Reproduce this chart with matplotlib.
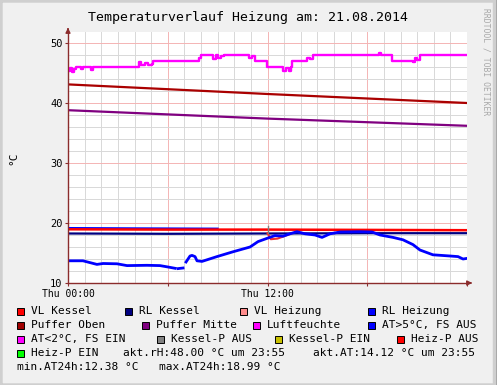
import numpy as np
import matplotlib.pyplot as plt
from matplotlib.patches import Rectangle

W, H = 497, 385
nan = np.nan

# Luftfeuchte (magenta, Stufen)
rh_h = [0.0, 0.12, 0.24, 0.36, 0.48, 0.78, 0.9, 1.38, 1.5, 4.27, 4.39, 4.63, 4.81, 5.05, 5.11,
        7.88, 8.0, 8.72, 8.9, 9.02, 9.2, 9.38, 10.88, 11.06, 11.24, 11.95, 12.93, 13.11, 13.29,
        13.41, 13.47, 14.38, 14.56, 14.74, 18.71, 18.83, 19.49, 20.75, 20.87, 20.99, 21.17, 24.0]
rh_v = [45.3, 45.8, 45.2, 45.7, 46.0, 45.6, 46.0, 45.5, 46.0, 46.8, 46.4, 46.6, 46.3, 46.5, 47.0,
        47.5, 48.0, 47.4, 48.0, 47.5, 47.8, 48.0, 47.5, 47.8, 47.0, 46.0, 45.3, 45.8, 45.3,
        46.0, 47.0, 47.5, 47.3, 48.0, 48.3, 48.0, 47.0, 46.9, 47.5, 47.2, 48.0, 48.0]

# Puffer Oben / Puffer Mitte
puffer_h = [0, 6, 12, 18, 24]
puffer_oben = [43.1, 42.3, 41.5, 40.75, 40.0]
puffer_mitte = [38.8, 38.1, 37.4, 36.8, 36.2]

# VL Kessel / RL Kessel / RL Heizung
kessel_h = [0, 6, 12, 18, 24]
vl_kessel = [18.95, 18.9, 18.9, 18.85, 18.8]
rl_kessel = [18.25, 18.2, 18.25, 18.3, 18.3]
rl_heiz_h = [0, 4, 9.0]
rl_heiz = [19.15, 19.1, 19.05]

# VL Heizung (kurzer Einbruch nach 12 Uhr)
vl_heiz_h = [12.0, 12.2, 12.6, 13.0, 13.4]
vl_heiz = [18.3, 17.3, 17.4, 17.8, 18.2]

# Kessel-P AUS Spitze
kp_h = [12.0, 12.0]
kp_v = [18.3, 19.5]

# Aussentemperatur (blau)
at_h = [0.0, 0.9, 1.74, 2.11, 2.95, 3.55, 4.75, 5.53, 5.95, 6.44, 6.55, 6.62, 6.92, 7.0,
        7.1, 7.34, 7.46, 7.64, 7.76, 8.06, 8.96, 9.92, 10.95, 11.43, 12.03, 12.45, 12.93,
        13.35, 13.77, 14.26, 14.86, 15.28, 15.76, 16.36, 17.56, 18.29, 18.77, 19.55, 20.15,
        20.75, 21.17, 21.95, 22.98, 23.46, 23.76, 24.0]
at_v = [13.7, 13.7, 13.1, 13.25, 13.2, 12.9, 12.95, 12.9, 12.7, 12.45, nan, 12.4, 12.5, nan,
        13.5, 14.5, 14.6, 14.4, 13.7, 13.6, 14.4, 15.2, 16.0, 16.9, 17.5, 17.9, 17.8,
        18.2, 18.55, 18.2, 18.0, 17.6, 18.2, 18.5, 18.55, 18.5, 18.0, 17.6, 17.2,
        16.4, 15.5, 14.7, 14.5, 14.4, 14.0, 14.1]

# Legende
leg_labels = ["VL Kessel", "RL Kessel", "VL Heizung", "RL Heizung",
              "Puffer Oben", "Puffer Mitte", "Luftfeuchte", "AT>5°C, FS AUS",
              "AT<2°C, FS EIN", "Kessel-P AUS", "Kessel-P EIN", "Heiz-P AUS",
              "Heiz-P EIN"]
leg_colors = ["#FF0000", "#000080", "#FF8C8C", "#0000FF",
              "#A00000", "#800080", "#FF00FF", "#0000FF",
              "#FF00FF", "#808080", "#C8C000", "#FF0000",
              "#00FF00"]
leg_x = [17, 125, 240, 368, 17, 142, 253, 368, 17, 157, 275, 397, 17]
leg_row = [0, 0, 0, 0, 1, 1, 1, 1, 2, 2, 2, 2, 3]
extra_texts = [("akt.rH:48.00 °C um 23:55", 123, 3), ("akt.AT:14.12 °C um 23:55", 313, 3),
               ("min.AT24h:12.38 °C", 17, 4), ("max.AT24h:18.99 °C", 159, 4)]
row_y = [311, 325, 339, 353, 367]

mono = 'DejaVu Sans Mono'
axcol = '#8B2C2C'


def fx(px):
    return px / W


def fy(py):
    return 1 - py / H


fig = plt.figure(figsize=(W / 100, H / 100), dpi=100, facecolor='#F0F0F0')

# Rahmen
fig.patches.append(Rectangle((0, 0), 1, 1, transform=fig.transFigure, fill=False,
                             edgecolor='#9E9E9E', lw=2.5))
fig.patches.append(Rectangle((0, 0), fx(W - 3), 1, transform=fig.transFigure, fill=False,
                             edgecolor='#CFCFCF', lw=2.5))

ax = fig.add_axes([fx(68), fy(283), fx(399), (283 - 32) / H])
ax.set_facecolor('white')

ax.plot(puffer_h, puffer_oben, color='#AA0000', lw=1.6)
ax.plot(puffer_h, puffer_mitte, color='#800080', lw=1.6)
ax.plot(rh_h, rh_v, color='#FF00FF', lw=1.7, drawstyle='steps-post')
ax.plot(rl_heiz_h, rl_heiz, color='#0000FF', lw=1.6)
ax.plot(kessel_h, vl_kessel, color='#FF0000', lw=1.8)
ax.plot(kessel_h, rl_kessel, color='#000080', lw=1.6)
ax.plot(vl_heiz_h, vl_heiz, color='#F03030', lw=1.5)
ax.plot(kp_h, kp_v, color='#808080', lw=1.0)
ax.plot(at_h, at_v, color='#0000FF', lw=2.0)

ax.set_xlim(0, 24)
ax.set_ylim(10, 10 + 251 / 6)
ax.set_xticks([0, 6, 12, 18, 24])
ax.set_xticklabels(["Thu 00:00", "", "Thu 12:00", "", ""], fontfamily=mono, fontsize=7)
ax.set_xticks(np.arange(0, 25, 1), minor=True)
ax.set_yticks([10, 20, 30, 40, 50])
ax.set_yticklabels(["10", "20", "30", "40", "50"], fontfamily=mono, fontsize=7.5)
ax.set_yticks(np.arange(10, 52, 2), minor=True)
ax.grid(which='minor', color='#D8D8D8', lw=0.7)
ax.grid(which='major', color='#F4B4B4', lw=0.7)
ax.set_axisbelow(True)
ax.tick_params(which='major', length=2, width=0.8, color=axcol, pad=2)
ax.tick_params(which='minor', length=0)
for s in ['top', 'right']:
    ax.spines[s].set_visible(False)
for s in ['left', 'bottom']:
    ax.spines[s].set_color(axcol)
    ax.spines[s].set_linewidth(1.0)

# Pfeile
ax.annotate('', xy=(fx(475), fy(283)), xytext=(fx(467), fy(283)), xycoords='figure fraction',
            arrowprops=dict(arrowstyle='-|>', color=axcol, lw=1.0, mutation_scale=7))
ax.annotate('', xy=(fx(68), fy(25)), xytext=(fx(68), fy(32)), xycoords='figure fraction',
            arrowprops=dict(arrowstyle='-|>', color=axcol, lw=1.0, mutation_scale=7))

fig.text(fx(248), fy(17), "Temperaturverlauf Heizung am: 21.08.2014", fontfamily=mono,
         fontsize=9.5, ha='center', va='center')
fig.text(fx(13), fy(158), "°C", fontfamily=mono, fontsize=8, rotation=90,
         ha='center', va='center')
fig.text(fx(486), fy(8), "RRDTOOL / TOBI OETIKER", fontfamily=mono, fontsize=5.8,
         rotation=270, ha='center', va='top', color='#A8A8A8')

for lab, col, x, r in zip(leg_labels, leg_colors, leg_x, leg_row):
    y = row_y[r]
    fig.patches.append(Rectangle((fx(x), fy(y + 3.5)), 7 / W, 7 / H, transform=fig.transFigure,
                                 facecolor=col, edgecolor='black', lw=0.7))
    fig.text(fx(x + 14), fy(y), lab, fontfamily=mono, fontsize=8, va='center', ha='left')

for txt, x, r in extra_texts:
    fig.text(fx(x), fy(row_y[r]), txt, fontfamily=mono, fontsize=8, va='center', ha='left')

fig.savefig('out.png', dpi=100, facecolor=fig.get_facecolor())
